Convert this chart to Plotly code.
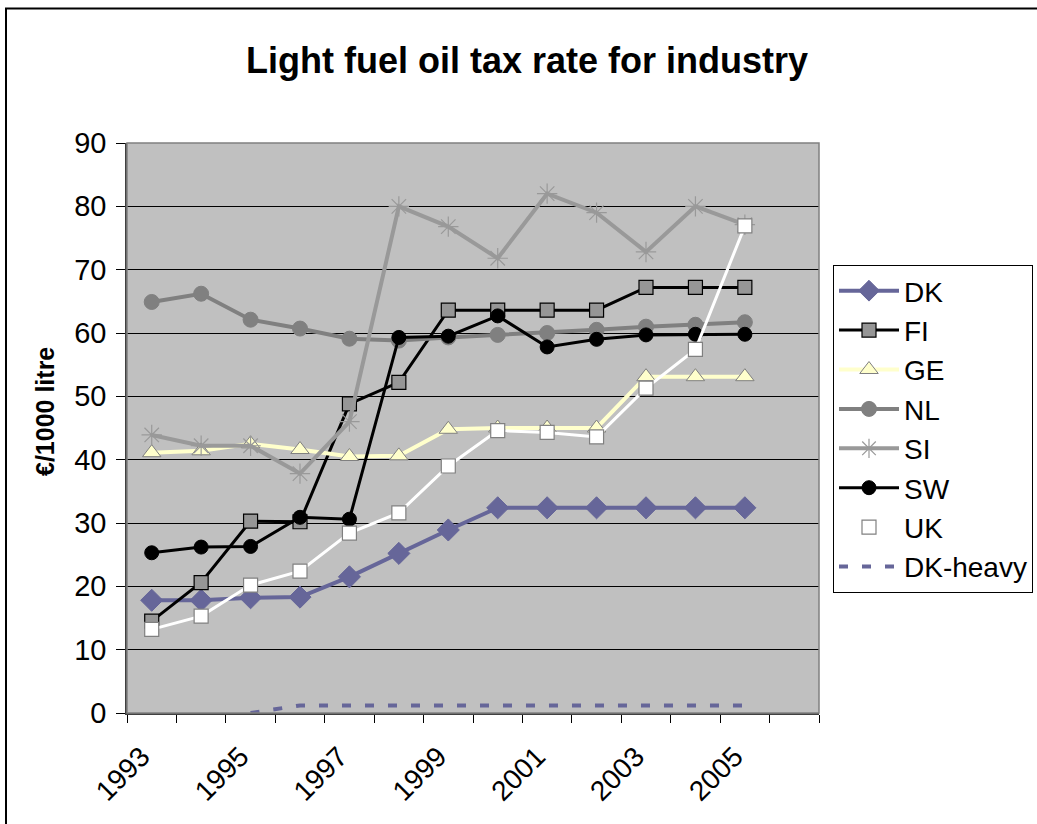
import plotly.graph_objects as go

years = list(range(1993, 2006))

dk = [17.8, 17.8, 18.2, 18.3, 21.5, 25.2, 28.9, 32.4, 32.4, 32.4, 32.4, 32.4, 32.4]
fi = [14.5, 20.6, 30.3, 30.2, 48.8, 52.2, 63.6, 63.6, 63.6, 63.6, 67.2, 67.2, 67.2]
ge = [41.1, 41.4, 42.5, 41.6, 40.5, 40.6, 44.8, 45.0, 45.0, 45.0, 53.1, 53.1, 53.1]
nl = [64.9, 66.2, 62.1, 60.7, 59.1, 58.8, 59.3, 59.7, 60.0, 60.5, 61.0, 61.3, 61.7]
si = [43.9, 42.2, 42.2, 37.8, 46.0, 80.0, 76.8, 71.8, 82.0, 79.0, 72.8, 80.0, 77.1]
sw = [25.3, 26.2, 26.3, 30.9, 30.6, 59.3, 59.5, 62.7, 57.8, 59.0, 59.7, 59.8, 59.8]
uk = [13.2, 15.3, 20.2, 22.4, 28.4, 31.6, 39.0, 44.6, 44.3, 43.6, 51.3, 57.4, 76.9]
dk_heavy_years = list(range(1995, 2006))
dk_heavy = [0.0, 1.2, 1.2, 1.2, 1.2, 1.2, 1.2, 1.2, 1.2, 1.2, 1.2]

label_years = [1993, 1995, 1997, 1999, 2001, 2003, 2005]

FONT = "Liberation Sans, Arial, sans-serif"

fig = go.Figure()

def add(name, x, y, line_color, width, symbol, msize, mfill, mline, mline_w=1, dash=None, mode="lines+markers"):
    fig.add_trace(go.Scatter(
        x=x, y=y, name=name, mode=mode, legendgroup=name,
        line=dict(color=line_color, width=width, dash=dash),
        marker=dict(symbol=symbol, size=msize, color=mfill,
                    line=dict(color=mline, width=mline_w)),
    ))

add("DK", years, dk, "#666699", 4, "diamond", 17, "#666699", "#666699")
add("FI", years, fi, "#000000", 3, "square", 14, "#969696", "#000000", 1.2)
add("GE", years, ge, "#FFFFCC", 4, "triangle-up", 16, "#FFFFCC", "#808080", 1)
add("NL", years, nl, "#808080", 4, "circle", 15, "#808080", "#808080")
add("SI", years, si, "#999999", 4, "asterisk-open", 17, "#999999", "#999999", 1.2)
add("SW", years, sw, "#000000", 3, "circle", 14, "#000000", "#000000")
add("UK", years, uk, "#FFFFFF", 3, "square", 14, "#FFFFFF", "#808080", 1.2)
add("DK-heavy", dk_heavy_years, dk_heavy, "#666699", 4, "circle", 1, "#666699",
    "#666699", 0, dash="9px,14px", mode="lines")

# plot area: x 127..819 px, y 143..713 px
L, R, T, B = 127, 819, 143, 713
W, H = R - L, B - T

def px_x(p):
    return (p - L) / W

def px_y(p):
    return (B - p) / H

fig.update_layout(
    width=1037, height=824,
    margin=dict(l=L, r=1037 - R, t=T, b=824 - B, autoexpand=False),
    paper_bgcolor="white",
    plot_bgcolor="#C0C0C0",
    font=dict(family=FONT, size=28, color="black"),
    title=dict(text="<b>Light fuel oil tax rate for industry</b>",
               font=dict(family=FONT, size=36, color="black"),
               xref="paper", x=px_x(527), xanchor="center",
               yref="container", y=1 - 60 / 824, yanchor="middle"),
    xaxis=dict(
        range=[1992.5, 2006.5],
        tickmode="array", tickvals=label_years,
        ticktext=[str(v) for v in label_years],
        tickangle=-45, ticks="outside", ticklen=14,
        tickcolor="rgba(0,0,0,0)",
        ticklabelshift=-10,
        minor=dict(tickmode="linear", tick0=1992.5, dtick=1,
                   ticks="outside", ticklen=8, tickcolor="black",
                   tickwidth=1, showgrid=False),
        showgrid=False, zeroline=False,
        showline=True, linecolor="#404040", linewidth=2,
        tickfont=dict(family=FONT, size=28),
    ),
    yaxis=dict(
        range=[0, 90], dtick=10, tick0=0,
        ticks="outside", ticklen=9, tickcolor="black",
        ticklabelstandoff=4,
        showgrid=True, gridcolor="#000000", gridwidth=1,
        zeroline=False, showline=True, linecolor="#404040", linewidth=1.5,
        tickfont=dict(family=FONT, size=29),
    ),
    legend=dict(
        x=px_x(833), y=px_y(265), xanchor="left", yanchor="top",
        bordercolor="#000000", borderwidth=1, bgcolor="white",
        font=dict(family=FONT, size=28, color="black"),
        itemwidth=60, tracegroupgap=4, traceorder="normal",
    ),
    showlegend=True,
    annotations=[dict(
        text="<b>€/1000 litre</b>", textangle=-90,
        xref="paper", yref="paper", x=px_x(45), y=px_y(412),
        xanchor="center", yanchor="middle", showarrow=False,
        font=dict(family=FONT, size=25, color="black"),
    )],
    shapes=[
        # frame around the plot area
        dict(type="rect", xref="paper", yref="paper", x0=0, x1=1, y0=0, y1=1,
             line=dict(color="#808080", width=1.5), layer="above"),
        # outer chart border
        dict(type="rect", xref="paper", yref="paper",
             x0=px_x(6), x1=px_x(1050), y0=px_y(840), y1=px_y(8.5),
             line=dict(color="#000000", width=2)),
    ],
)

fig.write_html("out.html")
